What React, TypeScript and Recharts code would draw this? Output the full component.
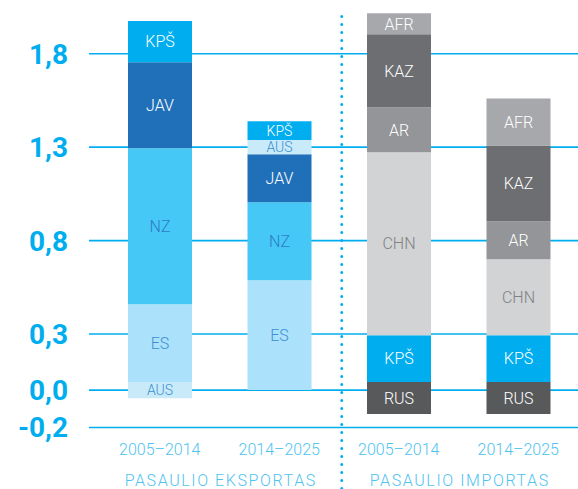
import { BarChart, Bar, XAxis, YAxis, CartesianGrid, LabelList } from 'recharts';

const periods = ['2005–2014', '2014–2025', '2005–2014', '2014–2025'];
const groups = ['PASAULIO EKSPORTAS', 'PASAULIO IMPORTAS'];
const yTicks = [-0.2, 0, 0.3, 0.8, 1.3, 1.8];

// start of each column (some start below zero)
const base = [-0.043, 0, -0.128, -0.128];
const rus = [0, 0, 0.171, 0.171];
const ausLow = [0.086, 0, 0, 0];
const kpsImp = [0, 0, 0.251, 0.251];
const es = [0.417, 0.588, 0, 0];
const chn = [0, 0, 0.979, 0.406];
const nz = [0.834, 0.417, 0, 0];
const ar = [0, 0, 0.24, 0.203];
const jav = [0.46, 0.257, 0, 0];
const kaz = [0, 0, 0.391, 0.406];
const ausHigh = [0, 0.077, 0, 0];
const afr = [0, 0, 0.112, 0.251];
const kpsExp = [0.221, 0.1, 0, 0];

const series = [
  { key: 'rus', name: 'RUS', values: rus, fill: '#58595B', text: '#ffffff' },
  { key: 'ausLow', name: 'AUS', values: ausLow, fill: '#C8EAF9', text: '#3D8FD1' },
  { key: 'kpsImp', name: 'KPŠ', values: kpsImp, fill: '#00AEEF', text: '#ffffff' },
  { key: 'es', name: 'ES', values: es, fill: '#ABE1FA', text: '#3D8FD1' },
  { key: 'chn', name: 'CHN', values: chn, fill: '#D1D3D4', text: '#808285' },
  { key: 'nz', name: 'NZ', values: nz, fill: '#45C8F5', text: '#2F7CC2' },
  { key: 'ar', name: 'AR', values: ar, fill: '#939598', text: '#ffffff' },
  { key: 'jav', name: 'JAV', values: jav, fill: '#1F70B8', text: '#ffffff' },
  { key: 'kaz', name: 'KAZ', values: kaz, fill: '#6D6E71', text: '#ffffff' },
  { key: 'ausHigh', name: 'AUS', values: ausHigh, fill: '#C8EAF9', text: '#3D8FD1' },
  { key: 'afr', name: 'AFR', values: afr, fill: '#A7A8AB', text: '#ffffff' },
  { key: 'kpsExp', name: 'KPŠ', values: kpsExp, fill: '#00AEEF', text: '#ffffff' },
];

const data = periods.map((p, i) => {
  const row: any = { id: `c${i}`, base: base[i] };
  series.forEach(s => { row[s.key] = s.values[i]; });
  return row;
});

const blue = '#00AEEF';
const font = 'Roboto, "Open Sans", sans-serif';

const segLabel = (name: string, color: string) => (props: any) => {
  const vb = props.viewBox || props;
  const { x, y, width, height } = vb;
  if (!height || Math.abs(height) < 1) return null;
  // thin segments get a slightly smaller label so neighbours don't collide
  const size = Math.abs(height) < 20 ? 14 : 16;
  return (
    <text x={x + width / 2} y={y + height / 2} dy="0.36em" textAnchor="middle" fill={color}
      fontSize={size} fontWeight={300} fontFamily={font}>{name}</text>
  );
};

const XTick = (props: any) => {
  const { x, y, index } = props;
  return (
    <g>
      <text x={x} y={y + 19} textAnchor="middle" fill="#4FC3F0" fontSize={16} fontWeight={300} fontFamily={font}>
        {periods[index]}
      </text>
      {index % 2 === 0 && (
        <text x={x + 61} y={y + 50} textAnchor="middle" fill="#4FC3F0" fontSize={16} fontWeight={300}
          letterSpacing={1.6} fontFamily={font}>{groups[index / 2]}</text>
      )}
      {index === 2 && (
        <line x1={x - 57} x2={x - 57} y1={y - 419} y2={y + 54} stroke={blue} strokeWidth={3}
          strokeDasharray="0 8" strokeLinecap="round" />
      )}
    </g>
  );
};

export default function App() {
  return (
    <div style={{ position: 'absolute', left: 0, top: 0 }}>
      <BarChart width={578} height={489} data={data} stackOffset="none" barSize={64}
        margin={{ top: 7, right: 0, bottom: 0, left: 0 }}>
        <CartesianGrid vertical={false} horizontalValues={yTicks} stroke={blue} strokeWidth={1.6} />
        <XAxis dataKey="id" height={61.5} axisLine={false} tickLine={false} interval={0}
          padding={{ left: 11, right: 0 }} tick={<XTick />} />
        <YAxis width={89} domain={[-0.2, 2.05]} ticks={yTicks} interval={0} axisLine={false} tickLine={false}
          tickMargin={15} tickFormatter={(v: number) => v.toFixed(1).replace('.', ',')}
          tick={{ fill: blue, fontSize: 28, fontWeight: 700, fontFamily: font }} />
        <Bar dataKey="base" stackId="s" fill="transparent" isAnimationActive={false} />
        {series.map(s => (
          <Bar key={s.key} dataKey={s.key} stackId="s" fill={s.fill} isAnimationActive={false}>
            <LabelList dataKey={s.key} content={segLabel(s.name, s.text)} />
          </Bar>
        ))}
      </BarChart>
    </div>
  );
}
